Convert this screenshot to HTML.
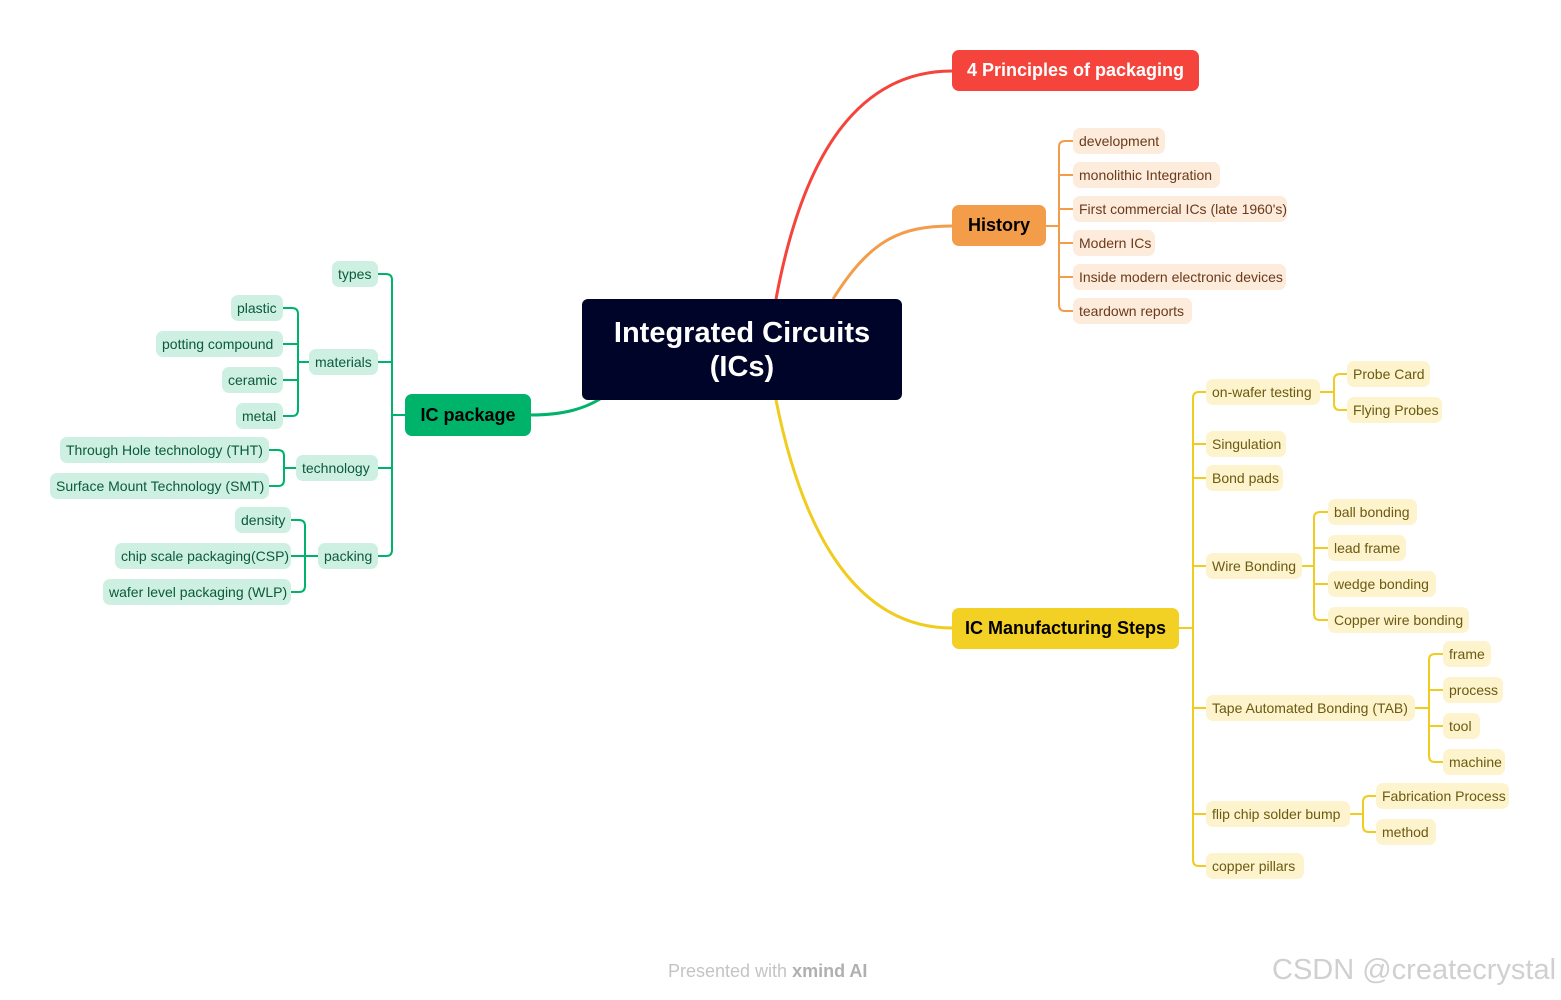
<!DOCTYPE html>
<html><head><meta charset="utf-8"><style>
body{margin:0;width:1561px;height:1000px;background:#fff;position:relative;overflow:hidden;font-family:"Liberation Sans",sans-serif}
.b{position:absolute;height:26px;line-height:26px;padding:0 6px;border-radius:7px;font-size:14px;white-space:nowrap;box-sizing:border-box}
.g{background:#cdf0e2;color:#0b5a3a}
.o{background:#fdebdc;color:#6b3a1a}
.y{background:#fdf3cc;color:#6b5a10}
.m{position:absolute;border-radius:7px;color:#000;font-size:18px;font-weight:bold;display:flex;align-items:center;justify-content:center;box-sizing:border-box}
svg{position:absolute;left:0;top:0}
</style></head><body>
<svg width="1561" height="1000" fill="none">
<g stroke="#00b36b" stroke-width="2">
<path d="M378,274 H386 Q392,274 392,280 V550 Q392,556 386,556 H378 M392,362 H378 M392,468 H378 M392,415 H405"/>
<path d="M283,308 H292 Q298,308 298,314 V410 Q298,416 292,416 H283 M298,344 H283 M298,380 H283 M298,362 H309"/>
<path d="M269,450 H278 Q284,450 284,456 V480 Q284,486 278,486 H269 M284,468 H296"/>
<path d="M291,520 H299 Q305,520 305,526 V586 Q305,592 299,592 H291 M305,556 H291 M305,556 H318"/>
<path stroke-width="3" d="M531,415 C565,415 585,408 600,399"/>
</g>
<path stroke="#f5443c" stroke-width="3" d="M776,299 C800,170 850,71 952,71"/>
<path stroke="#f39c4a" stroke-width="3" d="M833,299 C870,240 900,226 952,226"/>
<path stroke="#f0cc1e" stroke-width="3" d="M776,400 C800,520 850,628 952,628"/>
<g stroke="#f39c4a" stroke-width="2">
<path d="M1073,141 H1065 Q1059,141 1059,147 V305 Q1059,311 1065,311 H1073 M1059,175 H1073 M1059,209 H1073 M1059,243 H1073 M1059,277 H1073 M1046,226 H1059"/>
</g>
<g stroke="#f0cc1e" stroke-width="2">
<path d="M1206,392 H1199 Q1193,392 1193,398 V860 Q1193,866 1199,866 H1206 M1193,444 H1206 M1193,478 H1206 M1193,566 H1206 M1193,708 H1206 M1193,814 H1206 M1179,628 H1193"/>
<path d="M1347,374 H1340 Q1334,374 1334,380 V404 Q1334,410 1340,410 H1347 M1320,392 H1334"/>
<path d="M1328,512 H1320 Q1314,512 1314,518 V614 Q1314,620 1320,620 H1328 M1314,548 H1328 M1314,584 H1328 M1302,566 H1314"/>
<path d="M1443,654 H1435 Q1429,654 1429,660 V756 Q1429,762 1435,762 H1443 M1429,690 H1443 M1429,726 H1443 M1415,708 H1429"/>
<path d="M1376,796 H1369 Q1363,796 1363,802 V826 Q1363,832 1369,832 H1376 M1350,814 H1363"/>
</g>
</svg>

<div class="m" style="left:582px;top:299px;width:320px;height:101px;background:#000428;color:#fff;font-size:29px;line-height:34px;text-align:center;border-radius:6px">Integrated Circuits<br>(ICs)</div>
<div class="m" style="left:405px;top:394px;width:126px;height:42px;background:#00b36b">IC package</div>
<div class="m" style="left:952px;top:50px;width:247px;height:41px;background:#f5443c;color:#fff">4 Principles of packaging</div>
<div class="m" style="left:952px;top:205px;width:94px;height:41px;background:#f39c4a">History</div>
<div class="m" style="left:952px;top:608px;width:227px;height:41px;background:#f2d024">IC Manufacturing Steps</div>

<div class="b g" style="left:332px;top:261px;width:46px">types</div>
<div class="b g" style="left:231px;top:295px;width:52px">plastic</div>
<div class="b g" style="left:156px;top:331px;width:127px">potting compound</div>
<div class="b g" style="left:222px;top:367px;width:61px">ceramic</div>
<div class="b g" style="left:236px;top:403px;width:47px">metal</div>
<div class="b g" style="left:309px;top:349px;width:69px">materials</div>
<div class="b g" style="left:60px;top:437px;width:209px">Through Hole technology (THT)</div>
<div class="b g" style="left:50px;top:473px;width:219px">Surface Mount Technology (SMT)</div>
<div class="b g" style="left:296px;top:455px;width:82px">technology</div>
<div class="b g" style="left:235px;top:507px;width:56px">density</div>
<div class="b g" style="left:115px;top:543px;width:176px">chip scale packaging(CSP)</div>
<div class="b g" style="left:103px;top:579px;width:188px">wafer level packaging (WLP)</div>
<div class="b g" style="left:318px;top:543px;width:60px">packing</div>

<div class="b o" style="left:1073px;top:128px;width:92px">development</div>
<div class="b o" style="left:1073px;top:162px;width:147px">monolithic Integration</div>
<div class="b o" style="left:1073px;top:196px;width:214px">First commercial ICs (late 1960's)</div>
<div class="b o" style="left:1073px;top:230px;width:82px">Modern ICs</div>
<div class="b o" style="left:1073px;top:264px;width:213px">Inside modern electronic devices</div>
<div class="b o" style="left:1073px;top:298px;width:119px">teardown reports</div>

<div class="b y" style="left:1206px;top:379px;width:114px">on-wafer testing</div>
<div class="b y" style="left:1206px;top:431px;width:80px">Singulation</div>
<div class="b y" style="left:1206px;top:465px;width:77px">Bond pads</div>
<div class="b y" style="left:1206px;top:553px;width:96px">Wire Bonding</div>
<div class="b y" style="left:1206px;top:695px;width:209px">Tape Automated Bonding (TAB)</div>
<div class="b y" style="left:1206px;top:801px;width:144px">flip chip solder bump</div>
<div class="b y" style="left:1206px;top:853px;width:98px">copper pillars</div>
<div class="b y" style="left:1347px;top:361px;width:83px">Probe Card</div>
<div class="b y" style="left:1347px;top:397px;width:95px">Flying Probes</div>
<div class="b y" style="left:1328px;top:499px;width:89px">ball bonding</div>
<div class="b y" style="left:1328px;top:535px;width:78px">lead frame</div>
<div class="b y" style="left:1328px;top:571px;width:108px">wedge bonding</div>
<div class="b y" style="left:1328px;top:607px;width:141px">Copper wire bonding</div>
<div class="b y" style="left:1443px;top:641px;width:48px">frame</div>
<div class="b y" style="left:1443px;top:677px;width:60px">process</div>
<div class="b y" style="left:1443px;top:713px;width:37px">tool</div>
<div class="b y" style="left:1443px;top:749px;width:62px">machine</div>
<div class="b y" style="left:1376px;top:783px;width:133px">Fabrication Process</div>
<div class="b y" style="left:1376px;top:819px;width:60px">method</div>

<div style="position:absolute;left:668px;top:961px;font-size:18px;color:#c4c4c4">Presented with <b style="color:#b0b0b0">xmind AI</b></div>
<div style="position:absolute;left:1272px;top:954px;font-size:29px;color:#d0d0d0">CSDN @createcrystal</div>
</body></html>
